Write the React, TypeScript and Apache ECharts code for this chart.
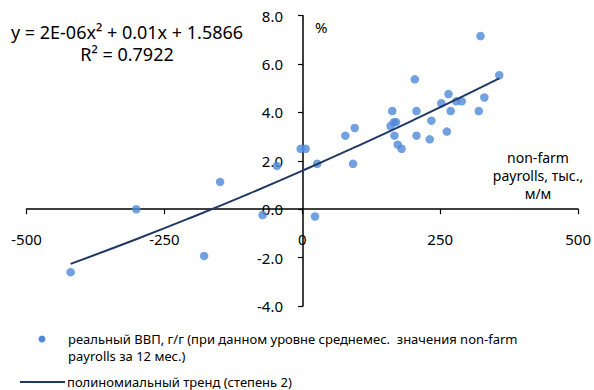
import React, { useEffect, useRef } from "react";
import * as echarts from "echarts";

// Scatter: real GDP y/y vs 12m avg non-farm payrolls (thous., m/m)
const gdpX = [-420, -301, -178, -149, -72, -46, -3, 6, 23, 27, 78, 95, 92, 160, 163, 166, 170, 167, 173, 180, 207, 207, 204, 231, 234, 252, 265, 269, 262, 279, 289, 320, 330, 323, 357];
const gdpY = [-2.6, 0.0, -1.93, 1.13, -0.24, 1.79, 2.5, 2.5, -0.3, 1.88, 3.04, 3.36, 1.88, 3.44, 4.06, 3.6, 3.6, 3.04, 2.67, 2.5, 3.04, 4.06, 5.37, 2.89, 3.66, 4.38, 4.76, 4.06, 3.21, 4.46, 4.46, 4.06, 4.62, 7.16, 5.54];

// Polynomial trend line (degree 2)
const trendX = [-420, -300, -200, -100, 0, 100, 200, 300, 357];
const trendY = [-2.26, -1.23, -0.33, 0.61, 1.59, 2.61, 3.67, 4.77, 5.41];

const xTicks = [-500, -250, 0, 250, 500];
const yTicks = [-4, -2, 0, 2, 4, 6, 8];

const equationText = "y = 2E-06x² + 0.01x + 1.5866";
const r2Text = "R² = 0.7922";
const unitText = "%";
const xNameText = "non-farm\npayrolls, тыс.,\nм/м";
const legend1Line1 = "реальный ВВП, г/г (при данном уровне среднемес.  значения non-farm";
const legend1Line2 = "payrolls за 12 мес.)";
const legend2Text = "полиномиальный тренд (степень 2)";

const FONT = "'Noto Sans', 'Open Sans', sans-serif";
const DOT = "#4e8ad9";
const LINE = "#1f3864";

// grid geometry
const G_LEFT = 26.5;
const G_RIGHT = 14.5;
const G_TOP = 15.7;
const G_BOTTOM = 84;
const W = 594;
const H = 390;

export default function App() {
  const ref = useRef<HTMLDivElement>(null);
  useEffect(() => {
    const chart = echarts.init(ref.current!, null, { renderer: "svg" });
    const scatterData = gdpX.map((x, i) => [x, gdpY[i]]);
    const trendData = trendX.map((x, i) => [x, trendY[i]]);
    const gw = W - G_LEFT - G_RIGHT;
    const gh = H - G_TOP - G_BOTTOM;
    const xMin = xTicks[0];
    const xMax = xTicks[xTicks.length - 1];
    const yMin = yTicks[0];
    const yMax = yTicks[yTicks.length - 1];
    // place the axes through the origin
    const xAxisOffset = -(gh * (0 - yMin)) / (yMax - yMin);
    const yAxisOffset = -(gw * (0 - xMin)) / (xMax - xMin);
    chart.setOption({
      animation: false,
      backgroundColor: "#fff",
      textStyle: { fontFamily: FONT },
      grid: { left: G_LEFT, right: G_RIGHT, top: G_TOP, bottom: G_BOTTOM, containLabel: false },
      xAxis: {
        type: "value",
        position: "bottom",
        offset: xAxisOffset,
        min: xMin,
        max: xMax,
        interval: 250,
        splitLine: { show: false },
        axisLine: { onZero: false, lineStyle: { color: "#000", width: 1.5 } },
        axisTick: { show: true, inside: false, length: 5, lineStyle: { color: "#000", width: 1.2 } },
        axisLabel: {
          margin: 22,
          fontSize: 15,
          color: "#000",
          fontFamily: FONT,
          showMinLabel: true,
          showMaxLabel: true,
          formatter: (v: number) => String(v),
        },
      },
      yAxis: {
        type: "value",
        position: "left",
        offset: yAxisOffset,
        min: yMin,
        max: yMax,
        interval: 2,
        splitLine: { show: false },
        axisLine: { onZero: false, lineStyle: { color: "#000", width: 1.5 } },
        axisTick: { show: true, inside: false, length: 5, lineStyle: { color: "#000", width: 1.2 } },
        axisLabel: {
          margin: 20,
          fontSize: 15,
          color: "#000",
          fontFamily: FONT,
          showMinLabel: true,
          showMaxLabel: true,
          formatter: (v: number) => v.toFixed(1),
        },
      },
      series: [
        {
          name: "реальный ВВП",
          type: "scatter",
          data: scatterData,
          symbol: "circle",
          symbolSize: 8.5,
          itemStyle: { color: DOT },
          z: 3,
        },
        {
          name: "полиномиальный тренд",
          type: "line",
          data: trendData,
          smooth: true,
          showSymbol: false,
          symbol: "none",
          lineStyle: { color: LINE, width: 2 },
          z: 4,
        },
      ],
      graphic: [
        { type: "text", x: 127, y: 32, style: { text: equationText, fill: "#000", font: `18px ${FONT}`, align: "center", verticalAlign: "middle" } },
        { type: "text", x: 127, y: 54, style: { text: r2Text, fill: "#000", font: `18px ${FONT}`, align: "center", verticalAlign: "middle" } },
        { type: "text", x: 315, y: 27, style: { text: unitText, fill: "#000", font: `15px ${FONT}`, align: "left", verticalAlign: "middle" } },
        { type: "text", x: 538, y: 175, style: { text: xNameText, fill: "#000", font: `14px ${FONT}`, lineHeight: 18, align: "center", verticalAlign: "middle" } },
        { type: "circle", shape: { cx: 42, cy: 339, r: 3.5 }, style: { fill: DOT } },
        { type: "text", x: 68, y: 339, style: { text: legend1Line1, fill: "#000", font: `13px ${FONT}`, align: "left", verticalAlign: "middle" } },
        { type: "text", x: 68, y: 356, style: { text: legend1Line2, fill: "#000", font: `13px ${FONT}`, align: "left", verticalAlign: "middle" } },
        { type: "line", shape: { x1: 20, y1: 382, x2: 65, y2: 382 }, style: { stroke: LINE, lineWidth: 2 } },
        { type: "text", x: 67, y: 382, style: { text: legend2Text, fill: "#000", font: `13px ${FONT}`, align: "left", verticalAlign: "middle" } },
      ],
    });
    return () => chart.dispose();
  }, []);
  return <div ref={ref} style={{ position: "absolute", left: 0, top: 0, width: W, height: H, background: "#fff" }} />;
}
